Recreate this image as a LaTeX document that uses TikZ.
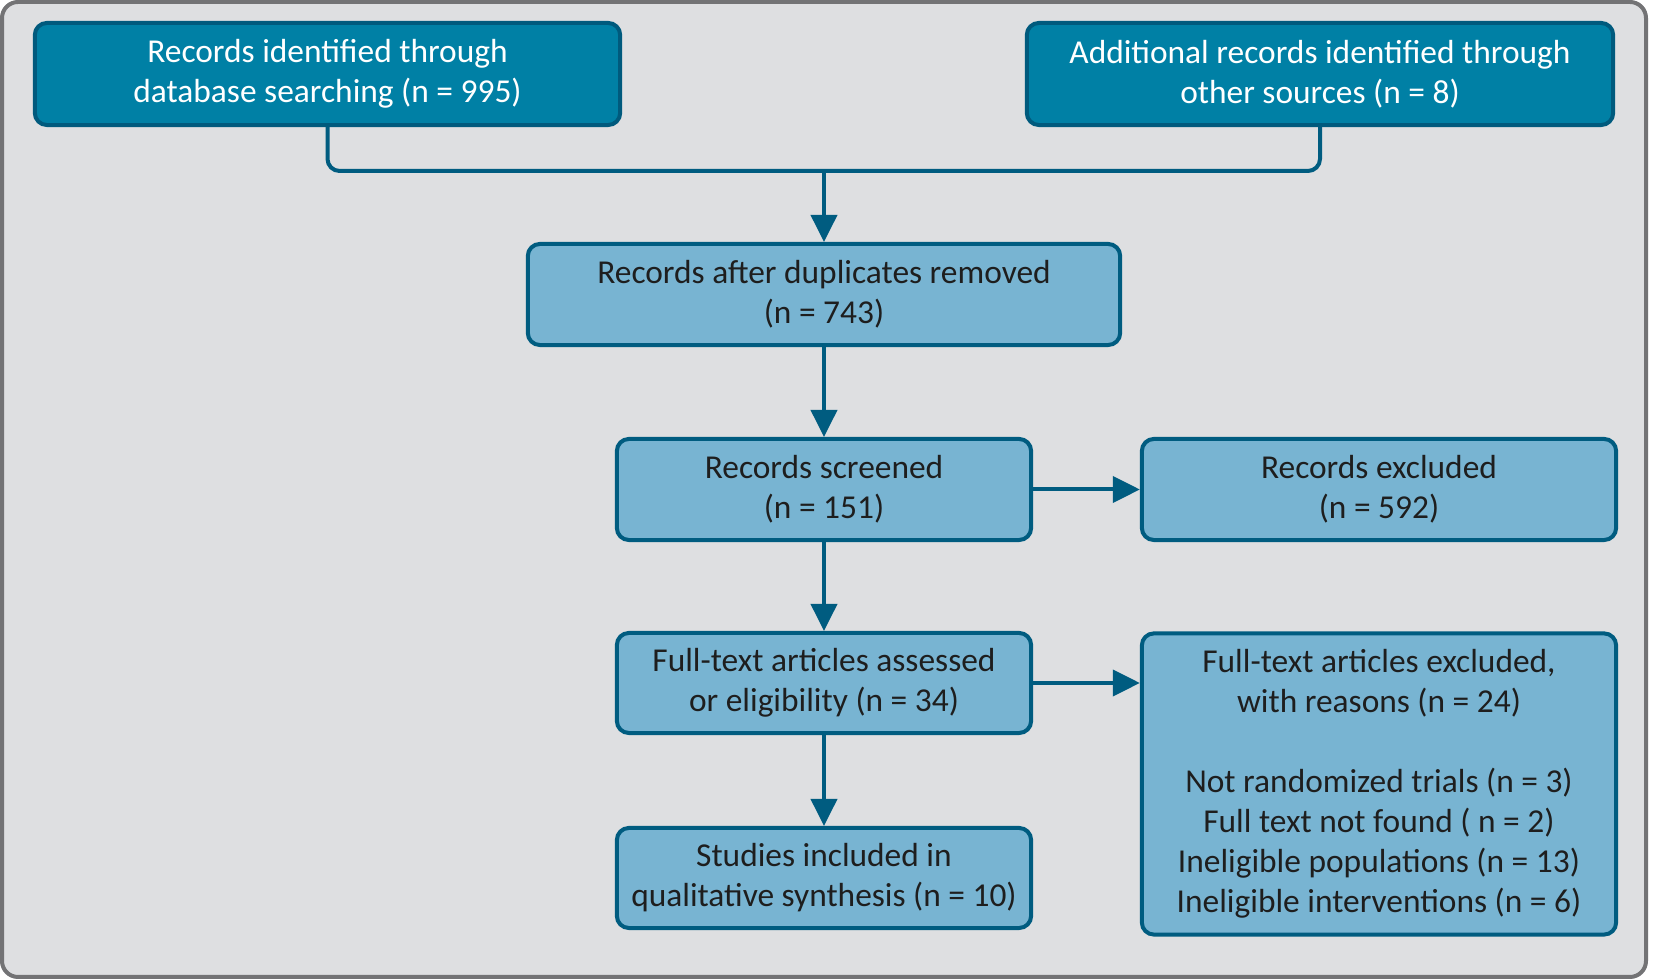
\documentclass[tikz,border=0pt]{standalone}
\usepackage{fontspec}
\setmainfont{Carlito}
\usepackage{tikz}
\usetikzlibrary{arrows.meta}
\definecolor{topfill}{RGB}{0,128,165}
\definecolor{topline}{RGB}{0,90,125}
\definecolor{lowfill}{RGB}{120,180,210}
\definecolor{lowline}{RGB}{0,92,128}
\definecolor{bgfill}{RGB}{222,223,225}
\definecolor{frameline}{RGB}{115,115,117}
\definecolor{inktext}{RGB}{30,30,30}
\tikzset{
  topbox/.style  = {draw=topline,fill=topfill,line width=0.04cm,rounded corners=0.12cm,
                    text=white,align=center,inner sep=0pt,font=\fontsize{9.5}{11.4}\selectfont},
  lowbox/.style  = {draw=lowline,fill=lowfill,line width=0.04cm,rounded corners=0.12cm,
                    text=inktext,align=center,inner sep=0pt,font=\fontsize{9.5}{11.4}\selectfont},
  flowarr/.style = {-{Triangle[length=0.27cm,width=0.26cm]},lowline,line width=0.04cm},
  joinline/.style = {lowline,line width=0.04cm,rounded corners=0.12cm}
}
\begin{document}
\begin{tikzpicture}[x=0.01cm,y=-0.01cm]
  \useasboundingbox (0,0) rectangle (1659,980);
  \draw[frameline,fill=bgfill,line width=0.04cm,rounded corners=0.16cm] (2,2) rectangle (1646,977);
  \node[topbox,minimum width=5.85cm,minimum height=1.02cm] (recId)  at (327.5,74) {Records identified through\\database searching (n = 995)};
  \node[topbox,minimum width=5.86cm,minimum height=1.02cm] (addRec) at (1320,74) {Additional records identified through\\other sources (n = 8)};
  \node[lowbox,minimum width=5.92cm,minimum height=1.01cm] (dedup)  at (824,294.5) {Records after duplicates removed\\(n = 743)};
  \node[lowbox,minimum width=4.14cm,minimum height=1.01cm] (screen)   at (824,489.5) {Records screened\\(n = 151)};
  \node[lowbox,minimum width=4.74cm,minimum height=1.01cm] (screenEx) at (1379,489.5) {Records excluded\\(n = 592)};
  \node[lowbox,minimum width=4.14cm,minimum height=1.00cm] (fulltext) at (824,683) {Full-text articles assessed\\or eligibility (n = 34)};
  \node[lowbox,minimum width=4.74cm,minimum height=3.01cm] (fullEx)   at (1379,784) {Full-text articles excluded,\\with reasons (n = 24)\\\mbox{}\\Not randomized trials (n = 3)\\Full text not found ( n = 2)\\Ineligible populations (n = 13)\\Ineligible interventions (n = 6)};
  \node[lowbox,minimum width=4.14cm,minimum height=1.00cm] (incl)     at (824,878) {Studies included in\\qualitative synthesis (n = 10)};
  \coordinate (join) at (dedup.north |- 0,171);
  \draw[joinline] (recId.south) |- (join) -| (addRec.south);
  \draw[flowarr] (join) -- (dedup.north);
  \draw[flowarr] (dedup.south) -- (screen.north);
  \draw[flowarr] (screen.south) -- (fulltext.north);
  \draw[flowarr] (fulltext.south) -- (incl.north);
  \draw[flowarr] (screen.east) -- (screenEx.west);
  \draw[flowarr] (fulltext.east) -- (fulltext.east -| fullEx.west);
\end{tikzpicture}
\end{document}
